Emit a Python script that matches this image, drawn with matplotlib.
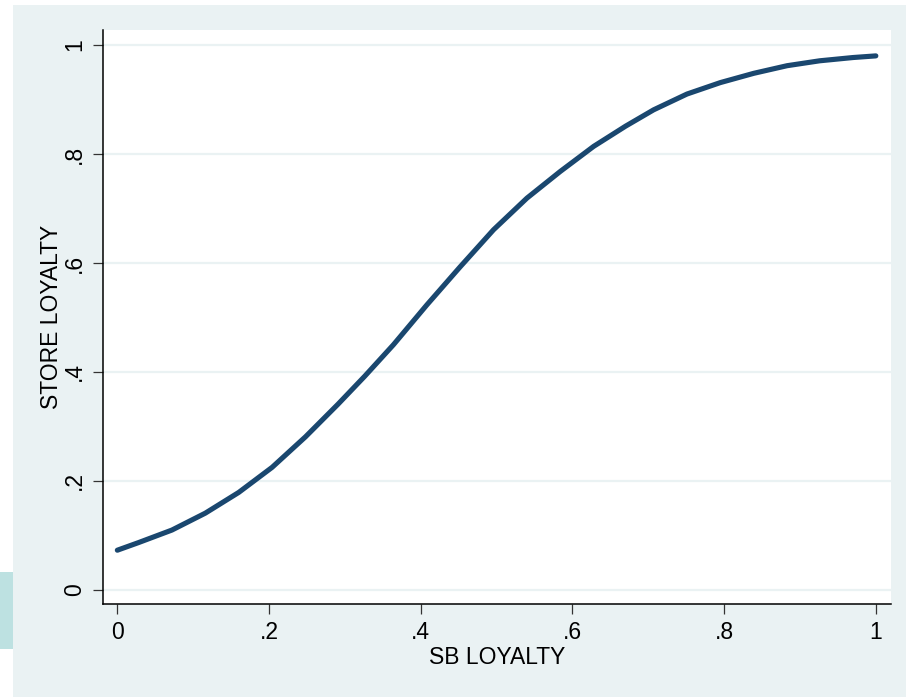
import matplotlib
matplotlib.use("Agg")
import matplotlib.pyplot as plt
from matplotlib.patches import Rectangle

plt.rcParams['font.family'] = ['Liberation Sans', 'DejaVu Sans']

# Predicted store loyalty along SB loyalty
sb_loyalty = [0.000, 0.028, 0.072, 0.116, 0.160, 0.204, 0.248, 0.291, 0.326,
              0.364, 0.408, 0.452, 0.496, 0.540, 0.584, 0.628, 0.670, 0.707,
              0.751, 0.795, 0.839, 0.883, 0.926, 0.970, 1.000]
store_loyalty = [0.073, 0.087, 0.110, 0.141, 0.179, 0.225, 0.281, 0.341, 0.392,
                 0.450, 0.523, 0.593, 0.661, 0.719, 0.768, 0.814, 0.851, 0.881,
                 0.910, 0.931, 0.948, 0.962, 0.971, 0.977, 0.980]

x_ticks = [0, 0.2, 0.4, 0.6, 0.8, 1.0]
x_ticklabels = ["0", ".2", ".4", ".6", ".8", "1"]
y_ticks = [0, 0.2, 0.4, 0.6, 0.8, 1.0]
y_ticklabels = ["0", ".2", ".4", ".6", ".8", "1"]

W, H = 906, 697
fig = plt.figure(figsize=(W / 100, H / 100), dpi=100, facecolor="white")

# graph region background and side strip
fig.patches.append(Rectangle((13 / W, 0), 1 - 13 / W, 1 - 5 / H,
                             transform=fig.transFigure, facecolor="#eaf2f3",
                             edgecolor="none", zorder=-10))
fig.patches.append(Rectangle((0, 1 - 649 / H), 13 / W, 77 / H,
                             transform=fig.transFigure, facecolor="#bde1e1",
                             edgecolor="none", zorder=-10))

ax = fig.add_axes([102.7 / W, 1 - 604 / H, (891 - 102.7) / W, (604 - 30) / H])
ax.set_zorder(1)
ax.set_facecolor("white")

ax.plot(sb_loyalty, store_loyalty, color="#1a476f", lw=3.7,
        solid_capstyle="round", solid_joinstyle="round", zorder=3)

ax.set_xlim(-0.0193, 1.0200)
ax.set_ylim(-0.0257, 1.0275)

ax.set_xticks(x_ticks)
ax.set_xticklabels(x_ticklabels)
ax.set_yticks(y_ticks)
ax.set_yticklabels(y_ticklabels, rotation=90, va="center")

ax.yaxis.grid(True, color="#eaf2f3", lw=1.6, zorder=0)
ax.xaxis.grid(False)
ax.set_axisbelow(True)

for side in ("top", "right"):
    ax.spines[side].set_visible(False)
for side in ("left", "bottom"):
    ax.spines[side].set_color("black")
    ax.spines[side].set_linewidth(1.1)

ax.tick_params(axis="both", direction="out", length=7, width=0.9,
               color="#333333", labelsize=16.5, pad=5, labelcolor="black")

ax.set_xlabel("SB LOYALTY", fontsize=16.5, labelpad=2)
ax.set_ylabel("STORE LOYALTY", fontsize=16.5, labelpad=0)

fig.savefig("out.png", dpi=100, facecolor=fig.get_facecolor())
